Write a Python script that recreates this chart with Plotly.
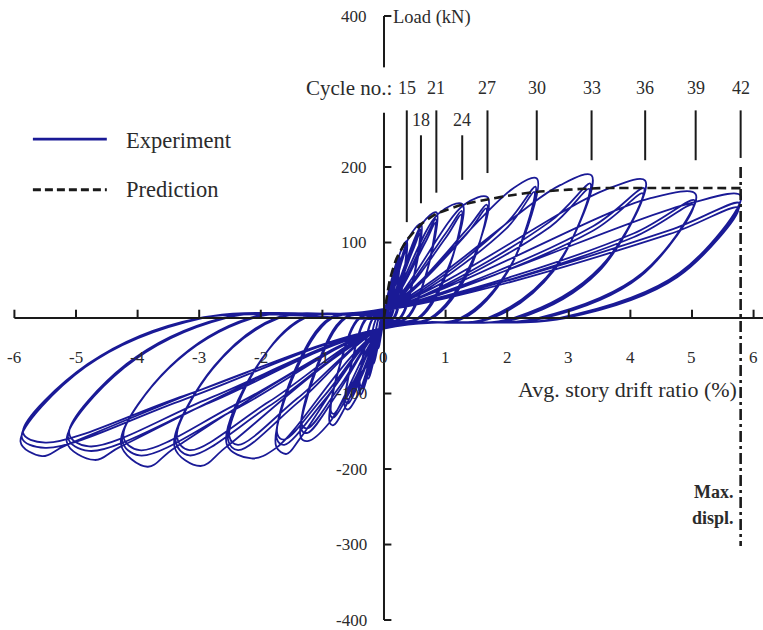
import plotly.graph_objects as go

# ---------------------------------------------------------------
# Hysteresis key points, one entry per loading cycle (cycles 1-42,
# three cycles per drift level). Drift in %, load in kN.
# ---------------------------------------------------------------
pos_peak_drift = [0.05, 0.05, 0.05, 0.10, 0.10, 0.10, 0.17, 0.17, 0.17, 0.25, 0.25, 0.25,
                  0.37, 0.37, 0.36, 0.60, 0.59, 0.58, 0.85, 0.84, 0.83, 1.27, 1.26, 1.25,
                  1.68, 1.67, 1.66, 2.48, 2.46, 2.44, 3.37, 3.35, 3.33, 4.24, 4.22, 4.20,
                  5.06, 5.04, 5.02, 5.79, 5.77, 5.75]
pos_peak_load = [22, 20, 19, 42, 39, 37, 62, 58, 55, 82, 77, 74,
                 102, 96, 92, 125, 117, 112, 140, 131, 126, 151, 142, 137,
                 160, 150, 145, 185, 174, 167, 189, 178, 171, 182, 172, 165,
                 164, 156, 150, 162, 152, 146]
pos_load_drift = [0.035, 0.037, 0.037, 0.07, 0.075, 0.075, 0.12, 0.13, 0.13, 0.18, 0.19, 0.19,
                  0.26, 0.29, 0.29, 0.40, 0.47, 0.47, 0.62, 0.67, 0.67, 0.88, 1.00, 1.00,
                  1.30, 1.33, 1.33, 2.10, 1.98, 1.98, 2.86, 2.70, 2.70, 3.60, 3.40, 3.40,
                  4.30, 4.05, 4.05, 4.92, 4.63, 4.63]
pos_load_load = [18, 15, 14, 34, 29, 27, 50, 43, 41, 68, 60, 57,
                 86, 78, 75, 106, 95, 90, 125, 106, 100, 138, 112, 106,
                 150, 116, 110, 172, 125, 118, 176, 128, 121, 170, 122, 116,
                 158, 112, 107, 151, 116, 111]
pos_knee_drift = [0.04, 0.04, 0.04, 0.085, 0.085, 0.085, 0.145, 0.145, 0.145, 0.21, 0.21, 0.21,
                  0.31, 0.31, 0.30, 0.50, 0.49, 0.48, 0.71, 0.70, 0.69, 1.06, 1.05, 1.04,
                  1.40, 1.39, 1.38, 2.06, 2.04, 2.02, 2.80, 2.78, 2.76, 3.52, 3.50, 3.48,
                  4.20, 4.18, 4.16, 4.80, 4.78, 4.76]
pos_knee_load = [10, 9, 9, 21, 19, 18, 31, 28, 27, 41, 38, 36,
                 50, 47, 45, 60, 56, 54, 66, 62, 60, 70, 66, 63,
                 70, 65, 62, 70, 66, 63, 70, 66, 63, 68, 64, 61,
                 60, 57, 55, 60, 56, 54]
pos_zero_drift = [0.02, 0.02, 0.02, 0.04, 0.045, 0.045, 0.07, 0.075, 0.075, 0.10, 0.11, 0.11,
                  0.15, 0.16, 0.17, 0.25, 0.26, 0.27, 0.36, 0.37, 0.38, 0.55, 0.57, 0.58,
                  0.75, 0.77, 0.79, 1.24, 1.27, 1.30, 1.68, 1.72, 1.76, 2.10, 2.15, 2.20,
                  2.50, 2.55, 2.60, 2.84, 2.90, 2.95]
origin_pos_load = [2, 2, 2, 4, 3, 3, 5, 5, 4, 6, 5, 5,
                   7, 6, 6, 8, 7, 7, 9, 8, 8, 10, 9, 8,
                   10, 9, 9, 11, 10, 9, 12, 10, 10, 12, 11, 10,
                   12, 11, 10, 12, 11, 10]
origin_neg_load = [-2, -2, -2, -4, -4, -3, -6, -5, -5, -7, -6, -6,
                   -8, -7, -7, -9, -8, -8, -10, -9, -9, -11, -10, -10,
                   -12, -11, -11, -13, -12, -12, -14, -13, -12, -14, -13, -13,
                   -14, -13, -13, -14, -13, -13]
neg_load_drift = [-0.025, -0.027, -0.027, -0.05, -0.055, -0.055, -0.10, -0.10, -0.10, -0.17, -0.15, -0.15,
                  -0.27, -0.22, -0.22, -0.40, -0.35, -0.35, -0.63, -0.48, -0.48, -0.88, -0.74, -0.74,
                  -1.35, -0.96, -0.96, -1.75, -1.40, -1.40, -2.55, -1.87, -1.87, -3.40, -2.35, -2.35,
                  -4.27, -2.83, -2.83, -5.15, -3.25, -3.25]
neg_load_load = [-12, -11, -10, -24, -21, -20, -38, -34, -32, -58, -50, -47,
                 -78, -62, -58, -98, -75, -71, -118, -86, -82, -138, -98, -93,
                 -158, -108, -102, -172, -112, -106, -170, -117, -111, -172, -118, -112,
                 -170, -112, -106, -168, -108, -103]
neg_bottom_drift = [-0.045, -0.045, -0.045, -0.09, -0.09, -0.09, -0.165, -0.165, -0.165, -0.25, -0.25, -0.25,
                    -0.37, -0.37, -0.37, -0.58, -0.58, -0.58, -0.82, -0.82, -0.82, -1.24, -1.24, -1.24,
                    -1.58, -1.62, -1.62, -2.15, -2.37, -2.37, -2.98, -3.16, -3.16, -3.84, -3.97, -3.97,
                    -4.70, -4.79, -4.79, -5.55, -5.50, -5.50]
neg_bottom_load = [-20, -18, -17, -40, -37, -35, -60, -56, -53, -80, -75, -71,
                   -101, -94, -90, -121, -113, -108, -142, -132, -127, -163, -152, -146,
                   -180, -168, -161, -186, -175, -168, -196, -182, -175, -197, -182, -175,
                   -188, -176, -170, -183, -172, -165]
neg_tip_drift = [-0.05, -0.05, -0.05, -0.10, -0.10, -0.10, -0.18, -0.18, -0.18, -0.27, -0.27, -0.27,
                 -0.40, -0.40, -0.39, -0.63, -0.62, -0.61, -0.88, -0.87, -0.86, -1.35, -1.34, -1.33,
                 -1.75, -1.74, -1.73, -2.55, -2.53, -2.51, -3.40, -3.38, -3.36, -4.27, -4.25, -4.23,
                 -5.15, -5.13, -5.11, -5.90, -5.88, -5.86]
neg_tip_load = [-20, -18, -17, -39, -36, -34, -59, -55, -52, -79, -74, -70,
                -99, -92, -88, -119, -111, -106, -139, -129, -124, -158, -148, -142,
                -170, -160, -154, -168, -162, -157, -171, -164, -158, -167, -162, -157,
                -164, -158, -153, -164, -158, -152]
neg_knee_drift = [-0.04, -0.04, -0.04, -0.085, -0.085, -0.085, -0.15, -0.15, -0.15, -0.22, -0.22, -0.22,
                  -0.33, -0.33, -0.32, -0.52, -0.51, -0.50, -0.72, -0.71, -0.70, -1.10, -1.09, -1.08,
                  -1.43, -1.42, -1.41, -2.09, -2.07, -2.05, -2.79, -2.77, -2.75, -3.50, -3.48, -3.46,
                  -4.22, -4.20, -4.18, -4.85, -4.83, -4.81]
neg_knee_load = [-9, -8, -8, -19, -18, -17, -29, -27, -25, -38, -35, -33,
                 -48, -45, -43, -58, -54, -51, -64, -60, -57, -69, -64, -61,
                 -70, -65, -62, -67, -65, -63, -68, -66, -63, -67, -65, -63,
                 -66, -64, -61, -65, -63, -61]
neg_zero_drift = [-0.02, -0.02, -0.02, -0.045, -0.045, -0.045, -0.08, -0.08, -0.08, -0.12, -0.12, -0.12,
                  -0.17, -0.18, -0.18, -0.27, -0.28, -0.29, -0.39, -0.40, -0.41, -0.62, -0.64, -0.65,
                  -0.84, -0.86, -0.88, -1.28, -1.30, -1.32, -1.70, -1.73, -1.76, -2.13, -2.16, -2.19,
                  -2.57, -2.60, -2.63, -2.95, -2.98, -3.00]

# Predicted backbone curve
pred_drift = [0, 0.05, 0.10, 0.20, 0.37, 0.60, 0.85, 1.27, 1.68, 2.10, 2.48, 3.00, 3.50, 5.79]
pred_load = [0, 30, 52, 78, 103, 124, 138, 150, 157, 163, 167, 170, 172, 172]

# Cycle markers along the top
cycle_labels_top = ["15", "21", "27", "30", "33", "36", "39", "42"]
cycle_drift_top = [0.37, 0.85, 1.68, 2.48, 3.37, 4.24, 5.06, 5.79]
cycle_labels_low = ["18", "24"]
cycle_drift_low = [0.60, 1.27]
marker_drift = [0.37, 0.60, 0.85, 1.27, 1.68, 2.48, 3.37, 4.24, 5.06, 5.79]
marker_top = [275, 242, 275, 242, 275, 275, 275, 275, 275, 275]
marker_bottom = [127, 152, 166, 183, 192, 209, 209, 209, 209, 212]

max_displ_drift = 5.79
x_ticks = [-6, -5, -4, -3, -2, -1, 0, 1, 2, 3, 4, 5, 6]
x_tick_text = ["-6", "-5", "-4", "-3", "-2", "-1", "0", "1", "2", "3", "4", "5", "6"]
y_ticks = [400, 200, 100, -100, -200, -300, -400]
y_tick_text = ["400", "200", "100", "-100", "-200", "-300", "-400"]

BLUE = "rgb(26,26,150)"
INK = "#1a1a1a"
TXT = "#2b2b2b"
FONT = "Liberation Serif"

# ---- assemble the continuous load-drift path ----
path_x, path_y = [0.0], [0.0]
for i in range(len(pos_peak_drift)):
    path_x += [0.0, pos_load_drift[i], pos_peak_drift[i], pos_knee_drift[i], pos_zero_drift[i],
               0.0, neg_load_drift[i], neg_bottom_drift[i], neg_tip_drift[i], neg_knee_drift[i],
               neg_zero_drift[i]]
    path_y += [origin_pos_load[i], pos_load_load[i], pos_peak_load[i], pos_knee_load[i], 0.0,
               origin_neg_load[i], neg_load_load[i], neg_bottom_load[i], neg_tip_load[i],
               neg_knee_load[i], 0.0]
path_x.append(0.0)
path_y.append(0.0)

fig = go.Figure()

fig.add_trace(go.Scatter(x=path_x, y=path_y, mode="lines",
                         line=dict(color=BLUE, width=1.8, shape="spline", smoothing=1.0),
                         hoverinfo="skip", showlegend=False))
fig.add_trace(go.Scatter(x=pred_drift, y=pred_load, mode="lines",
                         line=dict(color=INK, width=2.6, dash="9px,5px", shape="spline", smoothing=0.6),
                         hoverinfo="skip", showlegend=False))

shapes = []
# axes
shapes.append(dict(type="line", x0=-6.0, x1=6.3, y0=0, y1=0, line=dict(color=INK, width=2)))
shapes.append(dict(type="line", x0=0, x1=0, y0=400, y1=332, line=dict(color=INK, width=2)))
shapes.append(dict(type="line", x0=0, x1=0, y0=272, y1=-400, line=dict(color=INK, width=2)))
for xt in x_ticks:
    shapes.append(dict(type="line", x0=xt, x1=xt, y0=0, y1=11, line=dict(color=INK, width=2)))
for yt in y_ticks:
    shapes.append(dict(type="line", x0=0, x1=0.12, y0=yt, y1=yt, line=dict(color=INK, width=2)))
# cycle marker lines
for xd, yt, yb in zip(marker_drift, marker_top, marker_bottom):
    shapes.append(dict(type="line", x0=xd, x1=xd, y0=yt, y1=yb, line=dict(color=INK, width=2)))
# maximum displacement line
shapes.append(dict(type="line", x0=max_displ_drift, x1=max_displ_drift, y0=200, y1=-302,
                   line=dict(color=INK, width=2.6, dash="11px,4px,3px,4px")))
# legend samples
shapes.append(dict(type="line", x0=-5.7, x1=-4.5, y0=237, y1=237, line=dict(color=BLUE, width=2.6)))
shapes.append(dict(type="line", x0=-5.7, x1=-4.5, y0=170, y1=170,
                   line=dict(color=INK, width=3, dash="8px,4px")))

ann = []
def txt(x, y, s, size=16, xanchor="center", bold=False):
    ann.append(dict(x=x, y=y, xref="x", yref="y", text=f"<b>{s}</b>" if bold else s,
                    showarrow=False, xanchor=xanchor, yanchor="middle",
                    font=dict(family=FONT, size=size, color=TXT)))

for xt, lab in zip(x_ticks, x_tick_text):
    txt(xt, -52, lab, size=17)
for yt, lab in zip(y_ticks, y_tick_text):
    txt(-0.25, yt, lab, size=17, xanchor="right")
txt(0.12, 398, "Load (kN)", size=18.5, xanchor="left")
txt(5.77, -95, "Avg. story drift ratio (%)", size=22, xanchor="right")
txt(5.72, -230, "Max.", size=18, xanchor="right", bold=True)
txt(5.72, -265, "displ.", size=18, xanchor="right", bold=True)
txt(0.17, 305, "Cycle no.:", size=21, xanchor="right")
for xd, lab in zip(cycle_drift_top, cycle_labels_top):
    txt(xd, 305, lab, size=18)
for xd, lab in zip(cycle_drift_low, cycle_labels_low):
    txt(xd, 262, lab, size=18)
txt(-4.22, 235, "Experiment", size=22.5, xanchor="left")
txt(-4.22, 170, "Prediction", size=22.5, xanchor="left")

fig.update_layout(
    width=763, height=630,
    margin=dict(l=0, r=0, t=0, b=0),
    paper_bgcolor="white", plot_bgcolor="white",
    xaxis=dict(range=[-6.234, 6.153], visible=False, fixedrange=True),
    yaxis=dict(range=[-413.2, 421.2], visible=False, fixedrange=True),
    shapes=shapes, annotations=ann, showlegend=False,
)

fig.write_html("out.html")
